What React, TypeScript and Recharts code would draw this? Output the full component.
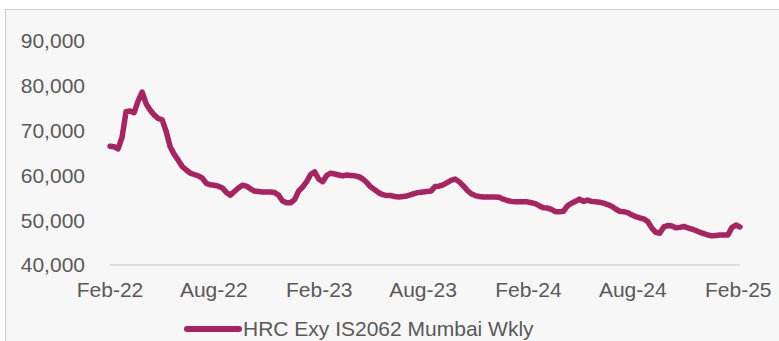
import React from "react"
import { LineChart, Line, XAxis, YAxis, Legend } from "recharts"

// weekly readings, one per week starting 1 Feb 2022 (INR/t)
const prices = [
  66500, 66400, 65900, 68500, 74200, 74400, 74000, 76600, 78600, 76000,
  74600, 73500, 72700, 72400, 69800, 66400, 64700, 63400, 62000, 61200,
  60500, 60200, 59900, 59400, 58200, 57900, 57800, 57600, 57200, 56200,
  55600, 56400, 57200, 57800, 57600, 57000, 56500, 56400, 56300, 56300,
  56300, 56200, 55600, 54300, 53900, 53900, 54600, 56500, 57400, 58600,
  60200, 60800, 59200, 58600, 60000, 60500, 60300, 60100, 59900, 60100,
  60000, 59900, 59700, 59200, 58400, 57400, 56800, 56100, 55700, 55500,
  55500, 55300, 55200, 55300, 55400, 55700, 56000, 56200, 56300, 56400,
  56500, 57500, 57600, 57900, 58400, 58900, 59200, 58600, 57700, 56700,
  55900, 55500, 55300, 55200, 55200, 55200, 55200, 55100, 54700, 54400,
  54200, 54100, 54100, 54100, 54100, 53900, 53700, 53200, 52800, 52700,
  52400, 51900, 51900, 52000, 53200, 53800, 54200, 54700, 54200, 54500,
  54200, 54100, 54000, 53800, 53500, 53100, 52500, 52000, 51900, 51700,
  51200, 50800, 50500, 50300, 49700, 48300, 47300, 47100, 48500, 48800,
  48700, 48300, 48400, 48600, 48300, 48000, 47700, 47300, 47000, 46700,
  46500, 46600, 46700, 46700, 46700, 48400, 48900, 48500,
]

// days since 1 Feb 2022 for each axis label
const tickDays = [0, 181, 365, 546, 730, 912, 1096]
const tickLabels = ["Feb-22", "Aug-22", "Feb-23", "Aug-23", "Feb-24", "Aug-24", "Feb-25"]
const yTicks = [40000, 50000, 60000, 70000, 80000, 90000]
const seriesName = "HRC Exy IS2062 Mumbai Wkly"

const data = prices.map((price, i) => ({ day: i * 7, price }))

const COLOR = "#A8235F"
const TEXT = "#595959"
const FONT = "'Liberation Sans', Arial, sans-serif"

function LegendBox() {
  return (
    <div style={{ display: "flex", alignItems: "center", height: 24, fontFamily: FONT, fontSize: 21, color: TEXT }}>
      <svg width={58} height={10} style={{ marginRight: 1 }}>
        <line x1={3} y1={5} x2={55} y2={5} stroke={COLOR} strokeWidth={6} strokeLinecap="round" />
      </svg>
      <span>{seriesName}</span>
    </div>
  )
}

export default function App() {
  return (
    <div style={{ position: "absolute", left: 0, top: 0, width: 779, height: 341, background: "#fff", overflow: "hidden" }}>
      <div
        style={{
          position: "absolute",
          left: 5,
          top: 9,
          width: 800,
          height: 400,
          border: "1.5px solid #CFCFCF",
          background: "#F7F7F7",
        }}
      />
      <div style={{ position: "absolute", left: 0, top: 0 }}>
        <LineChart width={779} height={341} data={data} margin={{ top: 41, right: 39, bottom: 0, left: 0 }}>
          <XAxis
            dataKey="day"
            type="number"
            domain={[0, 1099]}
            ticks={tickDays}
            interval={0}
            tickFormatter={(v: number) => tickLabels[tickDays.indexOf(v)] ?? ""}
            height={52}
            tickSize={0}
            tickMargin={17}
            stroke="#D4D4D4"
            strokeWidth={1.5}
            tick={{ fill: TEXT, fontSize: 21, fontFamily: FONT }}
          />
          <YAxis
            domain={[40000, 90000]}
            ticks={yTicks}
            interval={0}
            width={110}
            axisLine={false}
            tickLine={false}
            tickSize={0}
            tickMargin={25}
            tickFormatter={(v: number) => v.toLocaleString("en-US")}
            tick={{ fill: TEXT, fontSize: 21, fontFamily: FONT }}
          />
          <Legend verticalAlign="bottom" align="left" wrapperStyle={{ left: 184, width: "auto" }} content={() => <LegendBox />} />
          <Line
            type="linear"
            dataKey="price"
            name={seriesName}
            stroke={COLOR}
            strokeWidth={5.5}
            strokeLinejoin="round"
            strokeLinecap="round"
            dot={false}
            isAnimationActive={false}
          />
        </LineChart>
      </div>
    </div>
  )
}
